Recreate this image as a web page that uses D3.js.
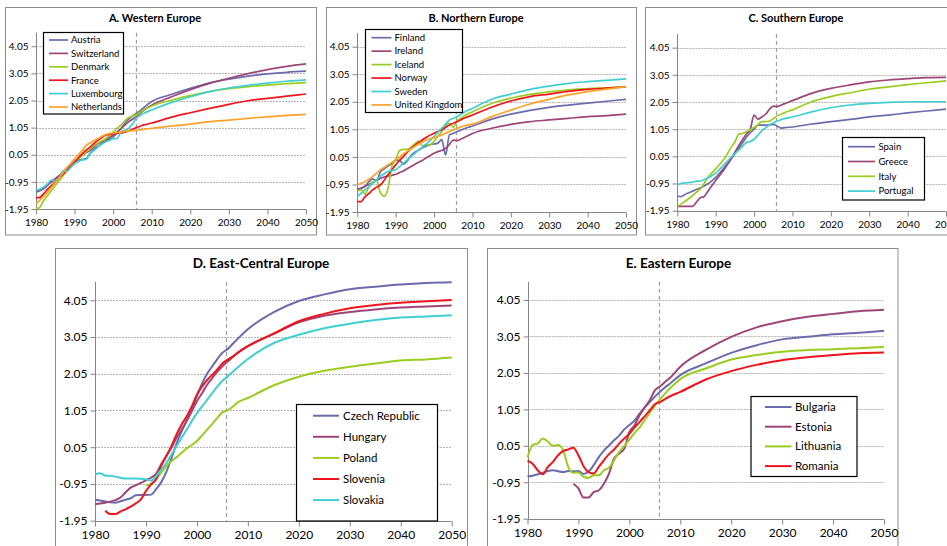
<!DOCTYPE html>
<html>
<head>
<meta charset="utf-8">
<script src="https://cdn.jsdelivr.net/npm/d3@7/dist/d3.min.js"></script>
<style>
  html, body { margin: 0; padding: 0; background: #fff; }
  svg { display: block; font-family: Lato, "Open Sans", sans-serif; }
</style>
</head>
<body>
<svg id="chart" width="947" height="546"></svg>
<script>
// Years: annual observations 1980-2008, then projection steps to 2050
const years = [1980,1981,1982,1983,1984,1985,1986,1987,1988,1989,1990,1991,1992,1993,1994,
  1995,1996,1997,1998,1999,2000,2001,2002,2003,2004,2005,2006,2007,2008,
  2010,2015,2020,2025,2030,2035,2040,2045,2050];

const yTicks = [-1.95, -0.95, 0.05, 1.05, 2.05, 3.05, 4.05];
const xTicks = [1980, 1990, 2000, 2010, 2020, 2030, 2040, 2050];
const projectionStart = 2005.8;

// A. Western Europe
const austria     = [-1.33,-1.28,-1.21,-1.08,-0.96,-0.85,-0.72,-0.58,-0.43,-0.33,-0.24,-0.16,-0.12,-0.09,0.10,0.25,0.36,0.46,0.54,0.62,0.70,0.85,1.01,1.20,1.36,1.48,1.57,1.68,1.80, 2.01,2.27,2.50,2.70,2.84,2.95,3.03,3.09,3.13];
const switzerland = [-1.30,-1.24,-1.15,-1.04,-0.93,-0.83,-0.72,-0.60,-0.47,-0.35,-0.22,-0.10,0.03,0.12,0.21,0.33,0.46,0.52,0.58,0.68,0.77,0.88,1.01,1.14,1.26,1.36,1.45,1.58,1.70, 1.88,2.18,2.45,2.68,2.87,3.04,3.19,3.31,3.40];
const denmark     = [-1.95,-1.88,-1.64,-1.45,-1.27,-1.08,-0.90,-0.72,-0.53,-0.37,-0.22,-0.10,0.03,0.15,0.27,0.38,0.48,0.56,0.64,0.76,0.89,1.02,1.14,1.30,1.42,1.48,1.52,1.62,1.71, 1.85,2.06,2.23,2.38,2.49,2.56,2.62,2.67,2.71];
const france      = [-1.54,-1.52,-1.38,-1.22,-1.09,-0.95,-0.80,-0.67,-0.53,-0.38,-0.22,-0.06,0.09,0.22,0.33,0.46,0.58,0.68,0.77,0.80,0.83,0.84,0.85,0.88,0.93,0.99,1.05,1.10,1.15, 1.22,1.43,1.60,1.76,1.91,2.04,2.13,2.21,2.29];
const luxembourg  = [-1.27,-1.22,-1.15,-1.02,-0.88,-0.90,-0.80,-0.55,-0.56,-0.42,-0.28,-0.20,-0.14,-0.12,0.09,0.20,0.33,0.44,0.52,0.58,0.64,0.64,0.89,0.95,1.02,1.18,1.40,1.50,1.58, 1.70,1.97,2.19,2.38,2.51,2.61,2.69,2.76,2.81];
const netherlands = [-1.76,-1.62,-1.49,-1.32,-1.15,-0.98,-0.80,-0.62,-0.43,-0.27,-0.10,0.06,0.21,0.40,0.48,0.57,0.64,0.72,0.79,0.83,0.85,0.87,0.89,0.91,0.93,0.94,0.95,0.97,0.99, 1.02,1.11,1.18,1.27,1.33,1.39,1.45,1.50,1.54];

// B. Northern Europe
const finland = [-1.15,-1.10,-1.02,-0.85,-0.75,-0.80,-0.50,-0.38,-0.28,-0.20,-0.08,-0.08,-0.22,-0.10,0.10,0.22,0.30,0.38,0.45,0.50,0.52,0.55,0.68,0.12,0.85,0.90,0.97,1.02,1.08, 1.17,1.42,1.60,1.74,1.85,1.93,2.00,2.07,2.14];
const ireland = [-1.12,-1.08,-1.02,-0.95,-0.88,-0.80,-0.73,-0.68,-0.64,-0.62,-0.58,-0.52,-0.46,-0.38,-0.30,-0.22,-0.14,-0.07,0.02,0.10,0.18,0.24,0.28,0.36,0.50,0.66,0.64,0.70,0.76, 0.90,1.09,1.23,1.33,1.39,1.45,1.51,1.55,1.60];
const iceland = [-1.20,-1.14,-1.30,-1.05,-0.85,-0.80,-1.25,-1.38,-1.10,-0.30,-0.05,0.28,0.32,0.32,0.40,0.52,0.62,0.45,0.50,0.48,0.62,0.80,0.97,1.20,1.27,1.12,1.38,1.45,1.55, 1.69,1.99,2.18,2.32,2.41,2.48,2.53,2.56,2.60];
const norway  = [-1.57,-1.57,-1.40,-1.28,-1.15,-1.05,-0.97,-0.80,-0.60,-0.42,-0.24,-0.08,0.06,0.22,0.36,0.47,0.57,0.67,0.76,0.84,0.91,0.97,1.03,1.12,1.21,1.27,1.33,1.40,1.46, 1.57,1.85,2.08,2.24,2.33,2.43,2.50,2.55,2.59];
const sweden  = [-1.39,-1.27,-1.15,-1.03,-0.91,-0.78,-0.66,-0.56,-0.48,-0.45,-0.42,-0.30,-0.18,-0.06,0.06,0.18,0.30,0.41,0.52,0.65,0.79,0.94,1.09,1.24,1.39,1.45,1.51,1.60,1.68, 1.81,2.14,2.33,2.50,2.62,2.72,2.78,2.83,2.88];
const unitedKingdom = [-0.97,-0.91,-0.85,-0.76,-0.66,-0.54,-0.42,-0.33,-0.24,-0.15,-0.06,0.05,0.16,0.25,0.34,0.43,0.52,0.59,0.66,0.71,0.75,0.80,0.85,0.91,0.97,1.03,1.09,1.14,1.18, 1.24,1.51,1.75,1.97,2.14,2.30,2.42,2.51,2.60];

// C. Southern Europe
const spain    = [-1.41,-1.43,-1.35,-1.29,-1.23,-1.17,-1.11,-1.04,-0.96,-0.85,-0.72,-0.57,-0.41,-0.23,-0.05,0.15,0.35,0.55,0.75,0.92,1.05,1.20,1.20,1.20,1.20,1.23,1.17,1.09,1.11, 1.13,1.24,1.33,1.41,1.50,1.57,1.65,1.72,1.79];
const greece   = [-1.79,-1.79,-1.79,-1.79,-1.79,-1.63,-1.47,-1.43,-1.23,-1.03,-0.84,-0.65,-0.47,-0.26,-0.05,0.20,0.44,0.66,0.87,1.05,1.57,1.42,1.50,1.60,1.78,1.90,1.88,1.93,1.99, 2.10,2.37,2.55,2.68,2.79,2.86,2.91,2.95,2.96];
const italy    = [-1.79,-1.70,-1.61,-1.50,-1.39,-1.27,-1.15,-0.95,-0.72,-0.56,-0.41,-0.25,-0.08,0.13,0.38,0.58,0.87,0.89,0.96,1.03,1.11,1.22,1.33,1.33,1.35,1.44,1.54,1.60,1.66, 1.76,2.06,2.25,2.39,2.52,2.61,2.69,2.76,2.83];
const portugal = [-1.02,-0.94,-0.93,-0.92,-0.90,-0.86,-0.86,-0.80,-0.74,-0.66,-0.57,-0.43,-0.29,-0.14,0.01,0.15,0.28,0.42,0.56,0.60,0.68,0.83,0.99,1.10,1.21,1.28,1.35,1.40,1.44, 1.50,1.69,1.84,1.94,2.00,2.04,2.06,2.06,2.06];

// D. East-Central Europe
const czechRepublic = [-1.38,-1.40,-1.43,-1.45,-1.46,-1.42,-1.38,-1.34,-1.26,-1.25,-1.25,-1.24,-1.09,-0.90,-0.62,-0.25,0.15,0.48,0.78,1.10,1.45,1.78,2.05,2.25,2.45,2.62,2.72,2.86,3.00, 3.26,3.72,4.03,4.21,4.35,4.42,4.48,4.52,4.54];
const hungary  = [-1.50,-1.48,-1.46,-1.43,-1.39,-1.32,-1.18,-1.05,-0.99,-0.92,-0.85,-0.78,-0.67,-0.41,-0.19,0.04,0.31,0.53,0.76,1.03,1.30,1.52,1.75,1.93,2.11,2.25,2.38,2.50,2.62, 2.80,3.13,3.45,3.63,3.73,3.80,3.85,3.88,3.91];
const poland   = [null,null,null,null,null,null,null,null,null,null,-0.98,-0.96,-0.82,-0.64,-0.46,-0.33,-0.22,-0.10,0.02,0.11,0.22,0.37,0.53,0.68,0.85,1.00,1.05,1.15,1.27, 1.39,1.73,1.97,2.13,2.24,2.33,2.41,2.44,2.49];
const slovenia = [null,null,-1.68,-1.77,-1.77,-1.70,-1.64,-1.57,-1.48,-1.37,-1.14,-0.96,-0.82,-0.46,-0.19,0.08,0.40,0.67,0.89,1.16,1.48,1.70,1.88,2.02,2.17,2.33,2.43,2.52,2.62, 2.80,3.14,3.48,3.68,3.83,3.92,3.98,4.02,4.06];
const slovakia = [-0.69,-0.66,-0.72,-0.73,-0.75,-0.78,-0.80,-0.80,-0.80,-0.81,-0.82,-0.86,-0.74,-0.56,-0.38,-0.15,0.08,0.31,0.53,0.76,0.98,1.16,1.34,1.52,1.70,1.86,1.97,2.10,2.22, 2.45,2.88,3.11,3.29,3.41,3.51,3.58,3.61,3.64];

// E. Eastern Europe
const bulgaria  = [-0.79,-0.77,-0.73,-0.69,-0.64,-0.62,-0.65,-0.67,-0.64,-0.65,-0.64,-0.72,-0.66,-0.48,-0.26,-0.08,0.06,0.20,0.33,0.50,0.62,0.74,0.93,1.10,1.25,1.40,1.53,1.65,1.76, 1.99,2.31,2.60,2.81,2.97,3.04,3.11,3.15,3.21];
const estonia   = [null,null,null,null,null,null,null,null,null,-0.99,-1.12,-1.37,-1.37,-1.22,-1.17,-0.99,-0.71,-0.30,-0.16,-0.03,0.43,0.61,0.89,1.10,1.30,1.57,1.68,1.80,1.92, 2.22,2.68,3.04,3.30,3.47,3.59,3.67,3.74,3.78];
const lithuania = [-0.27,0.07,0.11,0.25,0.16,0.05,0.07,-0.07,-0.53,-0.69,-0.68,-0.80,-0.83,-0.76,-0.76,-0.62,-0.55,-0.35,-0.12,0.05,0.22,0.40,0.55,0.75,0.95,1.15,1.32,1.48,1.63, 1.88,2.17,2.42,2.54,2.63,2.68,2.70,2.73,2.76];
const romania   = [-0.36,-0.44,-0.62,-0.73,-0.53,-0.39,-0.21,-0.09,-0.05,0.00,-0.21,-0.51,-0.67,-0.71,-0.53,-0.35,-0.18,-0.05,0.11,0.25,0.38,0.55,0.70,0.86,1.02,1.19,1.25,1.33,1.41, 1.53,1.87,2.10,2.27,2.40,2.48,2.54,2.59,2.61];

// Series colours
const C = {
  slate:  "#6B6BAE",
  plum:   "#9E4577",
  lime:   "#9ACD1E",
  red:    "#F0141C",
  cyan:   "#3FCFD2",
  orange: "#FFA127"
};

const panels = [
  { title: "A. Western Europe",
    series: [["Austria", austria, C.slate], ["Switzerland", switzerland, C.plum], ["Denmark", denmark, C.lime],
             ["France", france, C.red], ["Luxembourg", luxembourg, C.cyan], ["Netherlands", netherlands, C.orange]],
    frame: [5.5, 7.5, 311, 227.5], plot: { l: 36, r: 306, t: 32.7, b: 209 },
    titleX: 155, titleY: 22, titleSize: 11, tickSize: 10, xTickSize: 10, lw: 1.7,
    legend: { x: 43.5, y: 32.5, w: 80, h: 81.5, row0: 40, dy: 13.4, lx1: 49, lx2: 68, tx: 71, fs: 9.5 } },
  { title: "B. Northern Europe",
    series: [["Finland", finland, C.slate], ["Ireland", ireland, C.plum], ["Iceland", iceland, C.lime],
             ["Norway", norway, C.red], ["Sweden", sweden, C.cyan], ["United Kingdom", unitedKingdom, C.orange]],
    frame: [326.5, 7.5, 310, 227.5], plot: { l: 357.3, r: 626, t: 32.9, b: 212 },
    titleX: 476, titleY: 22, titleSize: 11, tickSize: 10, xTickSize: 10, lw: 1.7,
    legend: { x: 365.5, y: 29.5, w: 97, h: 83, row0: 37.7, dy: 13.45, lx1: 371.5, lx2: 391.5, tx: 394.5, fs: 9.5 } },
  { title: "C. Southern Europe",
    series: [["Spain", spain, C.slate], ["Greece", greece, C.plum], ["Italy", italy, C.lime], ["Portugal", portugal, C.cyan]],
    frame: [645.5, 7.5, 310, 227.5], plot: { l: 677.3, r: 946, t: 34.1, b: 210.7 },
    titleX: 796, titleY: 22, titleSize: 11, tickSize: 10, xTickSize: 10, lw: 1.7,
    legend: { x: 842.5, y: 137.5, w: 82, h: 62.5, row0: 146.7, dy: 14.8, lx1: 848, lx2: 875, tx: 878.5, fs: 9.5 } },
  { title: "D. East-Central Europe",
    series: [["Czech Republic", czechRepublic, C.slate], ["Hungary", hungary, C.plum], ["Poland", poland, C.lime],
             ["Slovenia", slovenia, C.red], ["Slovakia", slovakia, C.cyan]],
    frame: [55.5, 248.5, 412, 310], plot: { l: 95, r: 451.7, t: 281.9, b: 520.7 },
    titleX: 261, titleY: 268, titleSize: 13.5, tickSize: 12, xTickSize: 12, lw: 2,
    legend: { x: 296.5, y: 404.5, w: 141, h: 116.5, row0: 415.7, dy: 21.1, lx1: 313, lx2: 339, tx: 343, fs: 11.5 } },
  { title: "E. Eastern Europe",
    series: [["Bulgaria", bulgaria, C.slate], ["Estonia", estonia, C.plum], ["Lithuania", lithuania, C.lime], ["Romania", romania, C.red]],
    frame: [487.5, 248.5, 410.5, 310], plot: { l: 527.5, r: 884, t: 281.8, b: 518.7 },
    titleX: 678.5, titleY: 268, titleSize: 13.5, tickSize: 12, xTickSize: 12, lw: 2,
    legend: { x: 751, y: 396.5, w: 106, h: 80, row0: 407, dy: 19.7, lx1: 765, lx2: 791.5, tx: 795, fs: 11.5 } }
];

const svg = d3.select("#chart");
const fmt = d => d.toFixed(2);

panels.forEach(p => {
  const g = svg.append("g");

  // chart frame
  g.append("rect")
    .attr("x", p.frame[0]).attr("y", p.frame[1])
    .attr("width", p.frame[2]).attr("height", p.frame[3])
    .attr("fill", "#fff").attr("stroke", "#8c8c8c").attr("stroke-width", 1);

  const x = d3.scaleLinear().domain([1980, 2050]).range([p.plot.l, p.plot.r]);
  const y = d3.scaleLinear().domain([-1.95, 4.55]).range([p.plot.b, p.plot.t]);

  // horizontal gridlines
  g.append("g").selectAll("line")
    .data(yTicks.filter(v => v > -1.95))
    .join("line")
    .attr("x1", p.plot.l).attr("x2", p.plot.r)
    .attr("y1", d => Math.round(y(d)) + 0.5).attr("y2", d => Math.round(y(d)) + 0.5)
    .attr("stroke", "#b4b4b4").attr("stroke-width", 1).attr("stroke-dasharray", "2,1");

  // projection marker
  g.append("line")
    .attr("x1", Math.round(x(projectionStart)) + 0.5).attr("x2", Math.round(x(projectionStart)) + 0.5)
    .attr("y1", p.plot.t).attr("y2", p.plot.b)
    .attr("stroke", "#a0a0a0").attr("stroke-width", 1.2).attr("stroke-dasharray", "4,3");

  // axes
  const yAxis = d3.axisLeft(y).tickValues(yTicks).tickFormat(fmt).tickSize(5).tickPadding(3);
  const xAxis = d3.axisBottom(x).tickValues(xTicks).tickFormat(d3.format("d")).tickSize(5).tickPadding(4);

  const ya = g.append("g").attr("transform", `translate(${Math.round(p.plot.l) + 0.5},0)`).call(yAxis);
  const xa = g.append("g").attr("transform", `translate(0,${Math.round(p.plot.b) + 0.5})`).call(xAxis);
  [ya, xa].forEach(a => {
    a.select(".domain").attr("stroke", "#868686");
    a.selectAll(".tick line").attr("stroke", "#868686");
    a.selectAll("text").attr("fill", "#000").attr("font-family", "Lato, sans-serif");
  });
  ya.selectAll("text").attr("font-size", p.tickSize);
  xa.selectAll("text").attr("font-size", p.xTickSize);
  // y domain path: keep only the vertical line
  ya.select(".domain").attr("d", `M0,${p.plot.t}V${Math.round(p.plot.b) + 0.5}`);
  xa.select(".domain").attr("d", `M${p.plot.l},0H${p.plot.r}`);

  // series lines
  const line = d3.line()
    .defined(d => d[1] != null)
    .x(d => x(d[0])).y(d => y(d[1]))
    .curve(d3.curveMonotoneX);

  p.series.forEach(([name, vals, col]) => {
    g.append("path")
      .datum(years.map((yr, i) => [yr, vals[i]]))
      .attr("d", line)
      .attr("fill", "none").attr("stroke", col)
      .attr("stroke-width", p.lw).attr("stroke-linejoin", "round");
  });

  // title
  g.append("text")
    .attr("x", p.titleX).attr("y", p.titleY)
    .attr("text-anchor", "middle").attr("font-weight", "bold")
    .attr("font-size", p.titleSize).attr("fill", "#000")
    .text(p.title);

  // legend
  const L = p.legend;
  g.append("rect")
    .attr("x", L.x).attr("y", L.y).attr("width", L.w).attr("height", L.h)
    .attr("fill", "#fff").attr("stroke", "#000").attr("stroke-width", 1.2);
  p.series.forEach(([name, vals, col], i) => {
    const cy = L.row0 + i * L.dy;
    g.append("line")
      .attr("x1", L.lx1).attr("x2", L.lx2).attr("y1", cy).attr("y2", cy)
      .attr("stroke", col).attr("stroke-width", p.lw);
    g.append("text")
      .attr("x", L.tx).attr("y", cy).attr("dy", "0.35em")
      .attr("font-size", L.fs).attr("fill", "#000")
      .text(name);
  });
});
</script>
</body>
</html>
